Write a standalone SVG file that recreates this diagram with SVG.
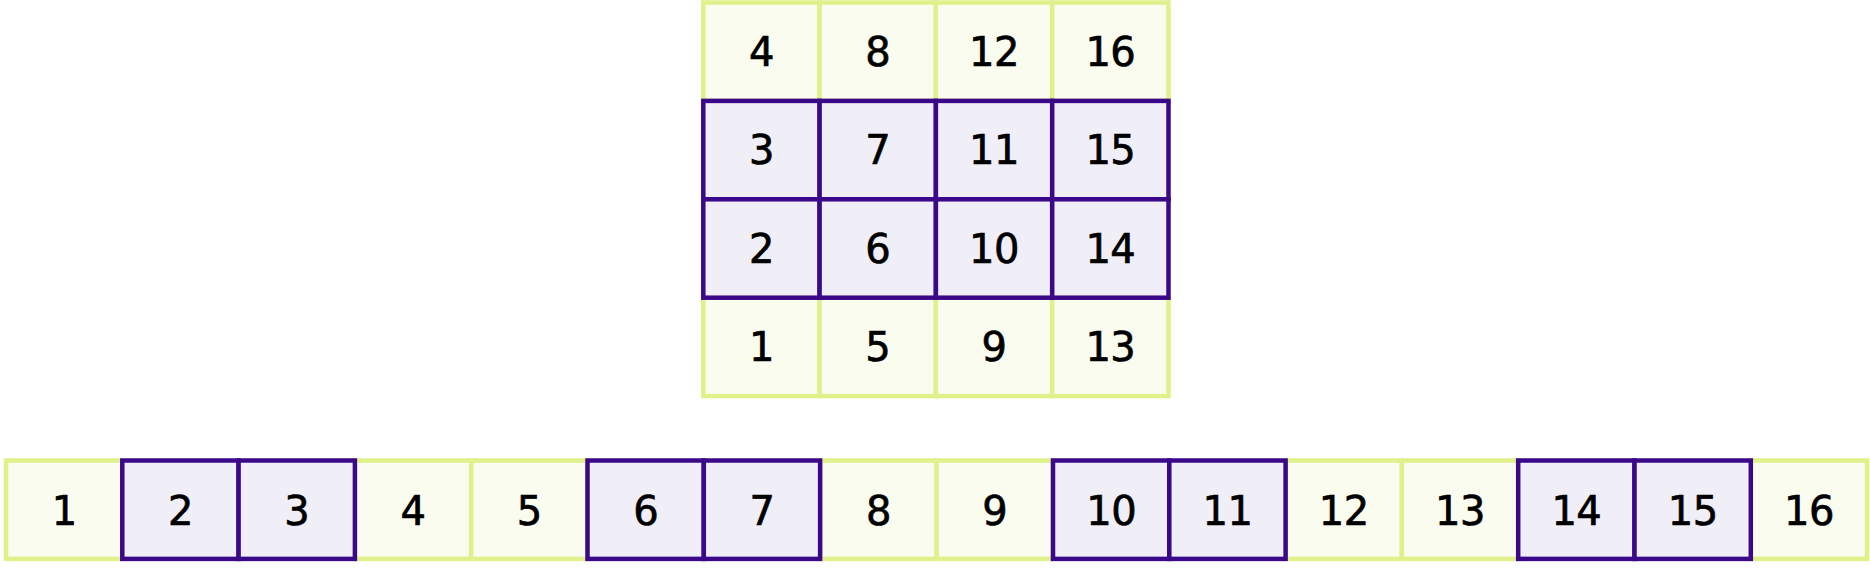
<svg xmlns="http://www.w3.org/2000/svg" width="1870" height="568" viewBox="0 0 1870 568">
<style>
.g rect{fill:#f9fcee;stroke:#e0f08a;stroke-width:4.5}
.p rect{fill:#f0eef7;stroke:#3a0889;stroke-width:4.5}
text{font-family:"DejaVu Sans","Liberation Sans",sans-serif;font-size:40px;fill:#000;stroke:#000;stroke-width:0.7;text-anchor:middle;letter-spacing:-0.5px}
</style>
<rect width="1870" height="568" fill="#fff"/>
<g id="grid">
<g id="t4" class="g"><rect x="703.3" y="2.5" width="116.3" height="98.4"/><text x="761.45" y="66">4</text></g>
<g id="t8" class="g"><rect x="819.6" y="2.5" width="116.3" height="98.4"/><text x="877.75" y="66">8</text></g>
<g id="t12" class="g"><rect x="935.9" y="2.5" width="116.3" height="98.4"/><text x="994.05" y="66">12</text></g>
<g id="t16" class="g"><rect x="1052.2" y="2.5" width="116.3" height="98.4"/><text x="1110.35" y="66">16</text></g>
<g id="t1" class="g"><rect x="703.3" y="297.7" width="116.3" height="98.4"/><text x="761.45" y="361.2">1</text></g>
<g id="t5" class="g"><rect x="819.6" y="297.7" width="116.3" height="98.4"/><text x="877.75" y="361.2">5</text></g>
<g id="t9" class="g"><rect x="935.9" y="297.7" width="116.3" height="98.4"/><text x="994.05" y="361.2">9</text></g>
<g id="t13" class="g"><rect x="1052.2" y="297.7" width="116.3" height="98.4"/><text x="1110.35" y="361.2">13</text></g>
<g id="t3" class="p"><rect x="703.3" y="100.9" width="116.3" height="98.4"/><text x="761.45" y="164.4">3</text></g>
<g id="t7" class="p"><rect x="819.6" y="100.9" width="116.3" height="98.4"/><text x="877.75" y="164.4">7</text></g>
<g id="t11" class="p"><rect x="935.9" y="100.9" width="116.3" height="98.4"/><text x="994.05" y="164.4">11</text></g>
<g id="t15" class="p"><rect x="1052.2" y="100.9" width="116.3" height="98.4"/><text x="1110.35" y="164.4">15</text></g>
<g id="t2" class="p"><rect x="703.3" y="199.3" width="116.3" height="98.4"/><text x="761.45" y="262.8">2</text></g>
<g id="t6" class="p"><rect x="819.6" y="199.3" width="116.3" height="98.4"/><text x="877.75" y="262.8">6</text></g>
<g id="t10" class="p"><rect x="935.9" y="199.3" width="116.3" height="98.4"/><text x="994.05" y="262.8">10</text></g>
<g id="t14" class="p"><rect x="1052.2" y="199.3" width="116.3" height="98.4"/><text x="1110.35" y="262.8">14</text></g>
</g>
<g id="row">
<g id="b1" class="g"><rect x="6" y="460.5" width="116.3" height="98.4"/><text x="64.15" y="524.5">1</text></g>
<g id="b4" class="g"><rect x="354.9" y="460.5" width="116.3" height="98.4"/><text x="413.05" y="524.5">4</text></g>
<g id="b5" class="g"><rect x="471.2" y="460.5" width="116.3" height="98.4"/><text x="529.35" y="524.5">5</text></g>
<g id="b8" class="g"><rect x="820.4" y="460.5" width="116.3" height="98.4"/><text x="878.55" y="524.5">8</text></g>
<g id="b9" class="g"><rect x="936.7" y="460.5" width="116.3" height="98.4"/><text x="994.85" y="524.5">9</text></g>
<g id="b12" class="g"><rect x="1285.6" y="460.5" width="116.3" height="98.4"/><text x="1343.75" y="524.5">12</text></g>
<g id="b13" class="g"><rect x="1401.9" y="460.5" width="116.3" height="98.4"/><text x="1460.05" y="524.5">13</text></g>
<g id="b16" class="g"><rect x="1750.8" y="460.5" width="116.3" height="98.4"/><text x="1808.95" y="524.5">16</text></g>
<g id="b2" class="p"><rect x="122.3" y="460.5" width="116.3" height="98.4"/><text x="180.45" y="524.5">2</text></g>
<g id="b3" class="p"><rect x="238.6" y="460.5" width="116.3" height="98.4"/><text x="296.75" y="524.5">3</text></g>
<g id="b6" class="p"><rect x="587.5" y="460.5" width="116.3" height="98.4"/><text x="645.65" y="524.5">6</text></g>
<g id="b7" class="p"><rect x="703.8" y="460.5" width="116.3" height="98.4"/><text x="761.95" y="524.5">7</text></g>
<g id="b10" class="p"><rect x="1053" y="460.5" width="116.3" height="98.4"/><text x="1111.15" y="524.5">10</text></g>
<g id="b11" class="p"><rect x="1169.3" y="460.5" width="116.3" height="98.4"/><text x="1227.45" y="524.5">11</text></g>
<g id="b14" class="p"><rect x="1518.2" y="460.5" width="116.3" height="98.4"/><text x="1576.35" y="524.5">14</text></g>
<g id="b15" class="p"><rect x="1634.5" y="460.5" width="116.3" height="98.4"/><text x="1692.65" y="524.5">15</text></g>
</g>
<g id="connectors"/>
</svg>
